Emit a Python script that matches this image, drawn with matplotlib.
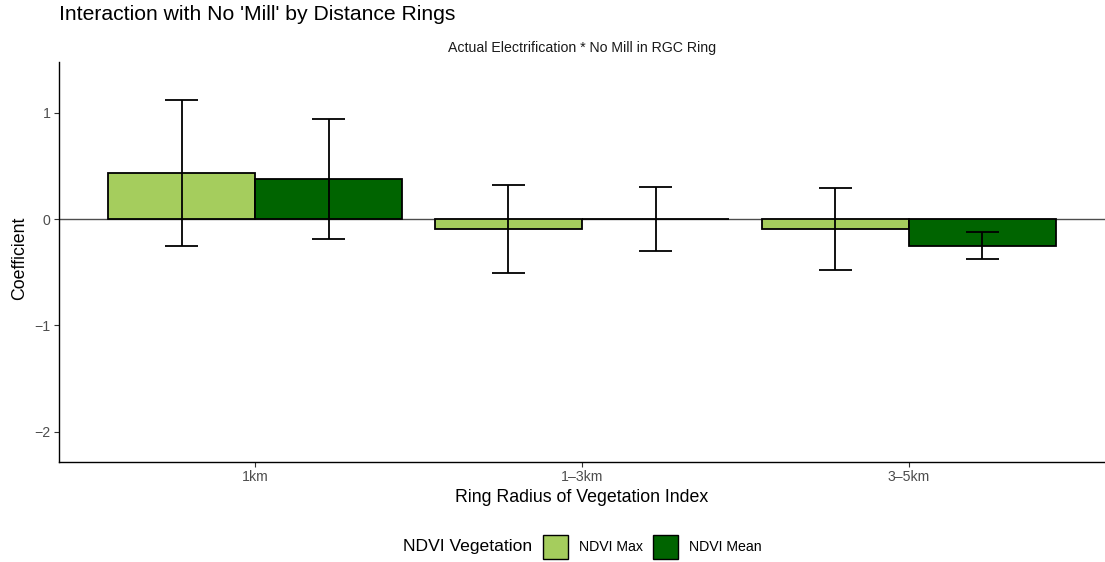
import matplotlib
matplotlib.use("Agg")
import matplotlib.pyplot as plt
from matplotlib.patches import Rectangle
import numpy as np

plt.rcParams['font.family'] = ['Liberation Sans', 'DejaVu Sans']

categories = ["1km", "1\u20133km", "3\u20135km"]
series = ["NDVI Max", "NDVI Mean"]
colors = ["#A5CD5D", "#006400"]
coef_max = [0.436, -0.094, -0.094]
coef_mean = [0.379, 0.006, -0.251]
lo_max = [-0.25, -0.505, -0.477]
hi_max = [1.12, 0.323, 0.295]
lo_mean = [-0.188, -0.295, -0.373]
hi_mean = [0.947, 0.307, -0.119]

W, H = 1105, 562
fig = plt.figure(figsize=(W / 100, H / 100), dpi=100)
ax = fig.add_axes([59 / W, 1 - 462 / H, (1105 - 59) / W, (462 - 62) / H])

x = np.arange(1, len(categories) + 1)
bw = 0.45
ax.axhline(0, color="#4D4D4D", lw=1.0, zorder=1)
vals = [coef_max, coef_mean]
los = [lo_max, lo_mean]
his = [hi_max, hi_mean]
for i in range(2):
    pos = x + (i - 0.5) * bw
    ax.bar(pos, vals[i], width=bw, color=colors[i], edgecolor="black", linewidth=1.3, zorder=2)
    ax.vlines(pos, los[i], his[i], color="black", lw=1.3, zorder=3)
    ax.hlines(los[i], pos - 0.05, pos + 0.05, color="black", lw=1.3, zorder=3)
    ax.hlines(his[i], pos - 0.05, pos + 0.05, color="black", lw=1.3, zorder=3)

ax.set_xlim(0.4, 3.6)
ax.set_ylim(-2.286, 1.48)
ax.set_xticks(x)
ax.set_xticklabels(categories)
ax.set_yticks([-2, -1, 0, 1])
ax.set_yticklabels(["\u22122", "\u22121", "0", "1"])
ax.tick_params(axis="both", colors="#333333", labelcolor="#4D4D4D", labelsize=10.2, length=3.5, width=0.8, pad=2.5)
for s in ["top", "right"]:
    ax.spines[s].set_visible(False)
for s in ["left", "bottom"]:
    ax.spines[s].set_linewidth(1.0)
    ax.spines[s].set_color("black")

fig.text(20 / W, 1 - 258 / H, "Coefficient", rotation=90, ha="center", va="center", fontsize=12.8)
fig.text(582 / W, 1 - 497 / H, "Ring Radius of Vegetation Index", ha="center", va="center", fontsize=12.8)
fig.text(59 / W, 1 - 14 / H, "Interaction with No 'Mill' by Distance Rings", ha="left", va="center", fontsize=15.2)
fig.text(582 / W, 1 - 48 / H, "Actual Electrification * No Mill in RGC Ring", ha="center", va="center", fontsize=10.2, color="#1A1A1A")

# legend
ly = 547
fig.text(532 / W, 1 - ly / H, "NDVI Vegetation", ha="right", va="center", fontsize=12.6)
keys = [(543, 579), (653, 689)]
for (kx, tx), c, lab in zip(keys, colors, series):
    fig.patches.append(Rectangle((kx / W, 1 - (ly + 12) / H), 25 / W, 24 / H,
                                 transform=fig.transFigure, facecolor=c, edgecolor="black", linewidth=1.0))
    fig.text(tx / W, 1 - ly / H, lab, ha="left", va="center", fontsize=10.2)

fig.savefig("out.png", dpi=100)
